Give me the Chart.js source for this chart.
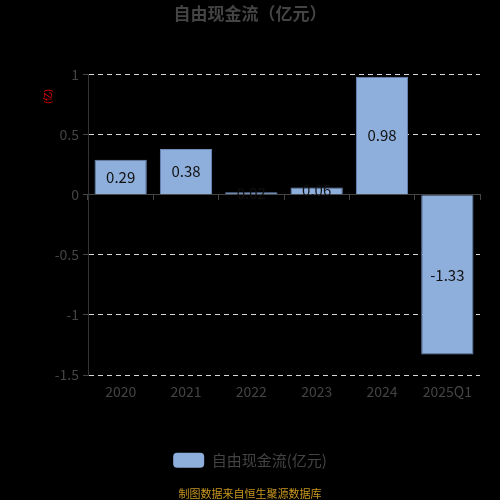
<!DOCTYPE html>
<html><head><meta charset="utf-8">
<script src="https://cdn.jsdelivr.net/npm/chart.js@4"></script>
<style>html,body{margin:0;padding:0;background:#000;}#wrap{width:500px;height:500px;}</style>
</head><body><div id="wrap"><canvas id="c" width="500" height="500"></canvas></div>
<script>
const categories = ['2020', '2021', '2022', '2023', '2024', '2025Q1'];
const values = [0.29, 0.38, 0.02, 0.06, 0.98, -1.33];
const valueLabels = ['0.29', '0.38', '0.02', '0.06', '0.98', '-1.33'];
const seriesName = '自由现金流(亿元)';
const titleText = '自由现金流（亿元）';
const yTitle = '(亿)';
const footer = '制图数据来自恒生聚源数据库';
const FONT = "'Noto Sans CJK SC', 'Noto Sans', sans-serif";

const barLabels = {
  id: 'barLabels',
  afterDatasetsDraw(chart) {
    const ctx = chart.ctx;
    const meta = chart.getDatasetMeta(0);
    ctx.save();
    ctx.fillStyle = '#111';
    ctx.font = '15px ' + FONT;
    ctx.textAlign = 'center';
    ctx.textBaseline = 'middle';
    meta.data.forEach((el, i) => {
      const p = el.getProps(['x', 'y', 'base'], true);
      ctx.fillText(valueLabels[i], p.x, (p.y + p.base) / 2);
    });
    // y axis unit title
    const a = chart.chartArea;
    ctx.fillStyle = '#e00';
    ctx.font = '9px ' + FONT;
    ctx.translate(a.left - 40, a.top + 22);
    ctx.rotate(-Math.PI / 2);
    ctx.fillText(yTitle, 0, 0);
    ctx.restore();
  }
};

new Chart(document.getElementById('c'), {
  type: 'bar',
  data: {
    labels: categories,
    datasets: [{
      label: seriesName,
      data: values,
      backgroundColor: '#8eaedb',
      borderColor: '#6c8cbc',
      borderWidth: 1,
      barPercentage: 1,
      categoryPercentage: 0.8
    }]
  },
  options: {
    responsive: false,
    animation: false,
    devicePixelRatio: 1,
    layout: { padding: { left: 10, right: 10, top: 0, bottom: 0 } },
    plugins: {
      tooltip: { enabled: false },
      title: {
        display: true, text: titleText, color: '#444',
        font: { family: FONT, size: 17, weight: 'bold' },
        padding: { top: 3, bottom: 51 }
      },
      legend: {
        position: 'bottom',
        labels: {
          color: '#444', font: { family: FONT, size: 15 },
          boxWidth: 31, boxHeight: 15, useBorderRadius: true, borderRadius: 4,
          padding: 10,
          generateLabels(chart) {
            return [{ text: seriesName, fillStyle: '#8eaedb', strokeStyle: '#8eaedb', lineWidth: 0, fontColor: '#444', datasetIndex: 0, borderRadius: 4 }];
          }
        }
      },
      subtitle: {
        display: true, text: footer, position: 'bottom', color: '#c8961e',
        font: { family: FONT, size: 11 }, padding: { top: 9, bottom: 0 }
      }
    },
    scales: {
      x: {
        position: { y: 0 },
        ticks: { display: false },
        grid: { drawOnChartArea: false, tickLength: 5, tickColor: '#444', offset: true },
        border: { color: '#444' }
      },
      x2: {
        type: 'category', labels: categories, position: 'bottom', offset: true,
        ticks: { color: '#444', font: { family: FONT, size: 14 }, padding: 0 },
        grid: { display: false },
        border: { display: false },
        afterFit(scale) { scale.height += 43; }
      },
      y: {
        min: -1.5, max: 1,
        ticks: { stepSize: 0.5, color: '#444', font: { family: FONT, size: 14 }, padding: 4,
          callback: v => String(v) },
        grid: {
          color: ctx => (ctx.tick && ctx.tick.value === 0) ? 'rgba(0,0,0,0)' : '#d8d8d8',
          tickColor: '#444', tickLength: 5
        },
        border: { color: '#333', dash: [5, 4] },
        afterFit(scale) { scale.width = 78; }
      },
      yPad: {
        type: 'linear', position: 'right', min: 0, max: 1,
        ticks: { display: false }, grid: { display: false }, border: { display: false },
        afterFit(scale) { scale.width = 10; }
      }
    }
  },
  plugins: [barLabels]
});
</script></body></html>
